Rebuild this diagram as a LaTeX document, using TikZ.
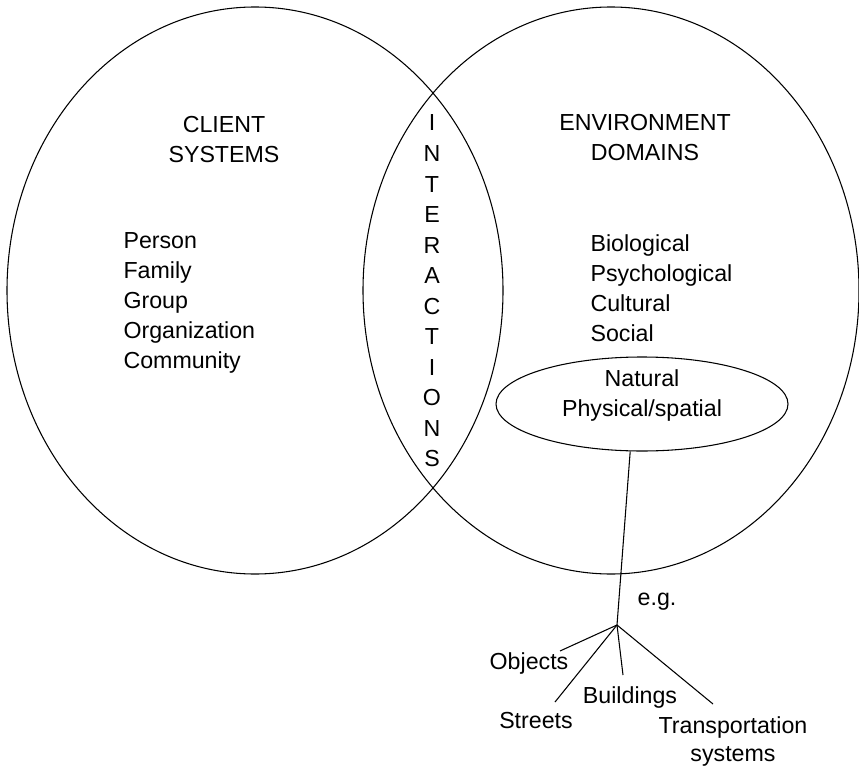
\documentclass[tikz,border=0pt]{standalone}
\usepackage{fontspec}
\setmainfont{Liberation Sans}
\usetikzlibrary{shapes.geometric}

\begin{document}
\begin{tikzpicture}[x=0.75pt,y=-0.75pt,line width=0.8pt,
  every node/.style={font=\fontsize{17.4}{22.5}\selectfont,inner sep=0pt},
  ring/.style={draw,ellipse,minimum width=372pt,minimum height=425.25pt}]
  \useasboundingbox (0,0) rectangle (859,770);

  % Overlapping circles
  \node[ring] (client) at (255,290.5) {};
  \node[ring] (environment) at (611,290.5) {};

  % Headings
  \node[align=center] (clienthead) at (224,140) {CLIENT\\SYSTEMS};
  \node[align=center] (envhead) at (645,138) {ENVIRONMENT\\DOMAINS};

  % Lists
  \node[anchor=west,align=left] (clientlist) at (123,303) {Person\\Family\\Group\\Organization\\Community};
  \node[anchor=west,align=left] (envlist) at (590,288) {Biological\\Psychological\\Cultural\\Social};

  % Overlap
  \node[align=center,font=\fontsize{17.4}{22.9}\selectfont] (inter) at (432,291)
    {I\\N\\T\\E\\R\\A\\C\\T\\I\\O\\N\\S};

  % Physical environment
  \node[draw,ellipse,minimum width=219pt,minimum height=70.5pt] (natural) at (642,404) {};
  \node[align=center] (naturaltext) at (642,395) {Natural\\Physical/spatial};

  % Examples
  \coordinate (fork) at (617,625);
  \node (eg) at (657,602) {e.g.};
  \node (objects) at (529,663) {Objects};
  \node (streets) at (536,721) {Streets};
  \node (buildings) at (630,697) {Buildings};
  \node[align=center,font=\fontsize{17.4}{21}\selectfont] (transport) at (733,741) {Transportation\\systems};
  \coordinate (objectsend) at (560,651);
  \coordinate (streetsend) at (555,702);
  \coordinate (buildingsend) at (623,675);
  \coordinate (transportend) at (713,704);

  \draw (natural.256) -- (fork);
  \draw (fork) -- (objectsend);
  \draw (fork) -- (streetsend);
  \draw (fork) -- (buildingsend);
  \draw (fork) -- (transportend);
\end{tikzpicture}
\end{document}
